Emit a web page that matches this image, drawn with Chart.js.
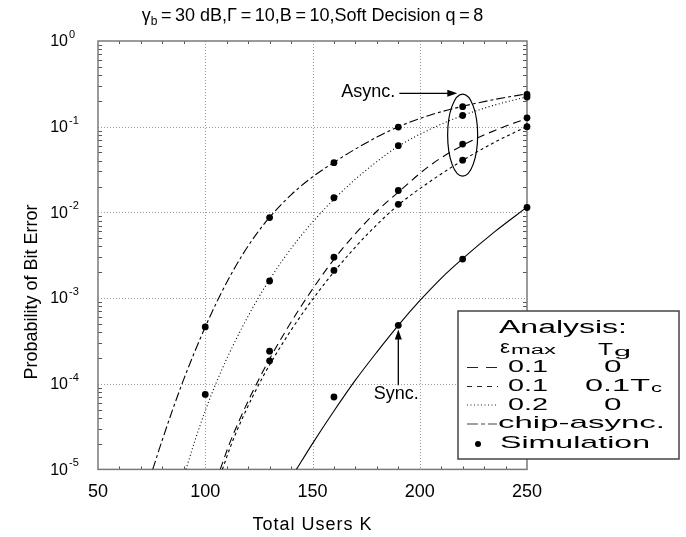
<!DOCTYPE html>
<html>
<head>
<meta charset="utf-8">
<script src="https://cdn.jsdelivr.net/npm/chart.js@4.4.1/dist/chart.umd.min.js"></script>
<style>
  html, body { margin: 0; padding: 0; background: #fff; }
  canvas { display: block; }
</style>
</head>
<body>
<canvas id="ber-chart" width="686" height="537"></canvas>
<script>
// Axes
const xTicks = [50, 100, 150, 200, 250];
const yTicks = [1, 1e-1, 1e-2, 1e-3, 1e-4, 1e-5];
const yTickExps = ['0', '-1', '-2', '-3', '-4', '-5'];

// Analysis curves (K users -> Pb)
const chipAsyncK  = [75.5, 80, 85, 90, 95, 100, 106, 112, 118, 124, 130, 140, 150, 160, 170, 180, 190, 205, 220, 235, 250];
const chipAsyncPb = [1e-5, 2.22e-5, 5.15e-5, 1.13e-4, 2.33e-4, 4.59e-4, 9.67e-4, 1.88e-3, 3.39e-3, 5.64e-3, 8.78e-3,
                     0.0160, 0.0259, 0.0383, 0.0548, 0.0756, 0.0997, 0.137, 0.173, 0.208, 0.242];

const eps02K  = [91, 95, 100, 105, 110, 117, 124, 130, 137, 145, 153, 160, 170, 180, 190, 205, 220, 235, 250];
const eps02Pb = [1e-5, 2.09e-5, 4.84e-5, 1.01e-4, 1.95e-4, 4.44e-4, 9.31e-4, 1.64e-3, 2.98e-3, 5.47e-3, 9.33e-3,
                 0.0142, 0.0244, 0.0391, 0.0592, 0.0938, 0.135, 0.179, 0.223];

const eps01K  = [107, 111, 116, 121, 126, 131, 138, 145, 152, 160, 170, 180, 190, 205, 220, 235, 250];
const eps01Pb = [1e-5, 1.91e-5, 3.80e-5, 7.08e-5, 1.26e-4, 2.16e-4, 4.33e-4, 8.24e-4, 1.50e-3, 2.83e-3, 5.64e-3,
                 0.0103, 0.0172, 0.0356, 0.0607, 0.0904, 0.125];

const eps01TgK  = [108, 112, 117, 122, 127, 132, 139, 146, 153, 160, 170, 180, 190, 205, 220, 235, 250];
const eps01TgPb = [1e-5, 1.91e-5, 3.80e-5, 7.0e-5, 1.22e-4, 2.02e-4, 3.85e-4, 6.98e-4, 1.21e-3, 2.02e-3, 3.94e-3,
                   7.18e-3, 0.0122, 0.0231, 0.0404, 0.066, 0.1006];

const syncK  = [142.5, 150, 160, 170, 180, 190, 200, 210, 220, 235, 250];
const syncPb = [1e-5, 2.0e-5, 4.8e-5, 1.1e-4, 2.34e-4, 4.8e-4, 9.3e-4, 1.7e-3, 2.88e-3, 5.96e-3, 0.0115];

// Simulation points
const simK  = [100, 100, 130, 130, 130, 130, 160, 160, 160, 160, 160, 190, 190, 190, 190, 190, 220, 220, 220, 220, 220, 250, 250, 250, 250, 250];
const simPb = [4.6e-4, 7.5e-5, 8.7e-3, 1.58e-3, 2.4e-4, 1.85e-4, 0.038, 0.0148, 3.0e-3, 2.1e-3, 7e-5,
               0.099, 0.060, 0.018, 0.0124, 4.8e-4, 0.171, 0.135, 0.0626, 0.0406, 2.85e-3, 0.238, 0.222, 0.127, 0.100, 0.0114];

// Annotation anchors in data units
const asyncLabel = { x: 176, y: 0.256 };
const asyncArrow = { x0: 190.5, x1: 217.5, y: 0.245 };
const asyncEllipse = { x: 220, halfK: 7, top: 0.24, bottom: 0.0265 };
const syncLabel = { x: 189, y: 7.6e-5 };
const syncArrow = { x: 190, y0: 9.6e-5, y1: 4.3e-4 };

const FONT = '"Liberation Sans", Arial, Helvetica, sans-serif';

const DASH_CHIP = [9, 3, 3, 3];
const DASH_LONG = [8, 5];
const DASH_SHORT = [3, 3];
const DASH_DOT = [1, 2.5];

function curve(xs, ys, dash) {
  return {
    data: xs.map((k, i) => ({ x: k, y: ys[i] })),
    borderColor: '#000',
    borderWidth: 1.1,
    borderDash: dash,
    pointRadius: 0,
    fill: false,
    cubicInterpolationMode: 'monotone'
  };
}

function seg(ctx, x0, y0, x1, y1) {
  ctx.beginPath();
  ctx.moveTo(x0, y0);
  ctx.lineTo(x1, y1);
  ctx.stroke();
}

// draws text stretched horizontally so it spans `w` pixels
function fitText(ctx, s, left, base, size, w) {
  ctx.font = size + 'px ' + FONT;
  const natural = ctx.measureText(s).width;
  ctx.save();
  ctx.translate(left, base);
  ctx.scale(w / natural, 1);
  ctx.textAlign = 'left';
  ctx.textBaseline = 'alphabetic';
  ctx.fillText(s, 0, 0);
  ctx.restore();
}

const paperPlot = {
  id: 'paperPlot',
  beforeDatasetsDraw(chart) {
    const { ctx, chartArea: a, scales: { x, y } } = chart;
    ctx.save();
    ctx.lineWidth = 1;

    // dotted grid
    ctx.strokeStyle = '#9a9a9a';
    ctx.setLineDash([1, 2]);
    xTicks.slice(1, -1).forEach(v => {
      const px = Math.round(x.getPixelForValue(v)) + 0.5;
      seg(ctx, px, a.top, px, a.bottom);
    });
    yTicks.slice(1, -1).forEach(v => {
      const py = Math.round(y.getPixelForValue(v)) + 0.5;
      seg(ctx, a.left, py, a.right, py);
    });
    ctx.setLineDash([]);

    // minor ticks, inside the frame
    ctx.strokeStyle = '#555';
    for (let k = 60; k < 250; k += 10) {
      if (k % 50 === 0) continue;
      const px = Math.round(x.getPixelForValue(k)) + 0.5;
      seg(ctx, px, a.bottom, px, a.bottom - 3);
      seg(ctx, px, a.top, px, a.top + 3);
    }
    for (let d = -5; d < 0; d++) {
      for (let m = 2; m <= 9; m++) {
        const py = Math.round(y.getPixelForValue(m * Math.pow(10, d))) + 0.5;
        seg(ctx, a.left, py, a.left + 4, py);
        seg(ctx, a.right, py, a.right - 4, py);
      }
    }

    // frame
    ctx.strokeStyle = '#7a7a7a';
    ctx.lineWidth = 1.5;
    ctx.strokeRect(a.left, a.top, a.right - a.left, a.bottom - a.top);
    ctx.restore();
  },

  afterDatasetsDraw(chart) {
    const { ctx, chartArea: a, scales: { x, y } } = chart;
    ctx.save();
    ctx.fillStyle = '#000';
    ctx.strokeStyle = '#000';

    // y tick labels 10^n
    yTicks.forEach((v, i) => {
      const py = y.getPixelForValue(v);
      ctx.font = '16px ' + FONT;
      ctx.textAlign = 'right';
      ctx.textBaseline = 'middle';
      ctx.fillText('10', a.left - 30, py + 1);
      ctx.font = '11px ' + FONT;
      ctx.textAlign = 'left';
      ctx.fillText(yTickExps[i], a.left - 29, py - 6);
    });

    // title
    const titleParts = [
      ['\u03b3', 18, 0],
      ['b', 12, 4],
      ['\u2009=\u200930 dB,\u0393\u2009=\u200910,B\u2009=\u200910,Soft Decision q\u2009=\u20098', 18, 0]
    ];
    let tw = 0;
    titleParts.forEach(p => { ctx.font = p[1] + 'px ' + FONT; tw += ctx.measureText(p[0]).width; });
    let tx = (a.left + a.right) / 2 - tw / 2;
    ctx.textAlign = 'left';
    ctx.textBaseline = 'alphabetic';
    titleParts.forEach(p => {
      ctx.font = p[1] + 'px ' + FONT;
      ctx.fillText(p[0], tx, 21 + p[2]);
      tx += ctx.measureText(p[0]).width;
    });

    // axis titles
    ctx.font = '18px ' + FONT;
    ctx.textAlign = 'center';
    ctx.textBaseline = 'middle';
    ctx.letterSpacing = '1px';
    ctx.fillText('Total Users K', (a.left + a.right) / 2, 525);
    ctx.letterSpacing = '0px';
    ctx.save();
    ctx.translate(32, 292);
    ctx.rotate(-Math.PI / 2);
    ctx.fillText('Probability of Bit Error', 0, 0);
    ctx.restore();

    // Async. annotation
    ctx.font = '18px ' + FONT;
    ctx.fillText('Async.', x.getPixelForValue(asyncLabel.x), y.getPixelForValue(asyncLabel.y));
    const ay = y.getPixelForValue(asyncArrow.y);
    const ax0 = x.getPixelForValue(asyncArrow.x0);
    const ax1 = x.getPixelForValue(asyncArrow.x1);
    ctx.lineWidth = 1.3;
    seg(ctx, ax0, ay, ax1 - 8, ay);
    ctx.beginPath();
    ctx.moveTo(ax1, ay);
    ctx.lineTo(ax1 - 10, ay - 3.5);
    ctx.lineTo(ax1 - 10, ay + 3.5);
    ctx.closePath();
    ctx.fill();

    const ecx = x.getPixelForValue(asyncEllipse.x);
    const etop = y.getPixelForValue(asyncEllipse.top);
    const ebot = y.getPixelForValue(asyncEllipse.bottom);
    const erx = x.getPixelForValue(asyncEllipse.x + asyncEllipse.halfK) - ecx;
    ctx.lineWidth = 1.2;
    ctx.beginPath();
    ctx.ellipse(ecx, (etop + ebot) / 2, erx, (ebot - etop) / 2, 0, 0, Math.PI * 2);
    ctx.stroke();

    // Sync. annotation
    ctx.fillText('Sync.', x.getPixelForValue(syncLabel.x), y.getPixelForValue(syncLabel.y));
    const sx = x.getPixelForValue(syncArrow.x);
    const sy0 = y.getPixelForValue(syncArrow.y0);
    const sy1 = y.getPixelForValue(syncArrow.y1);
    ctx.lineWidth = 1.3;
    seg(ctx, sx, sy0, sx, sy1 + 8);
    ctx.beginPath();
    ctx.moveTo(sx, sy1);
    ctx.lineTo(sx - 3.5, sy1 + 10);
    ctx.lineTo(sx + 3.5, sy1 + 10);
    ctx.closePath();
    ctx.fill();

    // legend box
    const L = { x: 458, y: 311, w: 221, h: 148 };
    ctx.fillStyle = '#fff';
    ctx.fillRect(L.x, L.y, L.w, L.h);
    ctx.strokeStyle = '#444';
    ctx.lineWidth = 1.5;
    ctx.strokeRect(L.x, L.y, L.w, L.h);
    ctx.fillStyle = '#000';

    fitText(ctx, 'Analysis:', 499, 333, 18, 128);
    fitText(ctx, '\u03b5', 500, 352.5, 18, 10);
    fitText(ctx, 'max', 511, 354, 12, 45);
    fitText(ctx, 'T', 598, 355, 16, 15);
    fitText(ctx, 'g', 614, 356, 12, 17);

    const rows = [
      { dash: [11, 8], ly: 367.5, base: 372, a: '0.1', b: '0' },
      { dash: [5, 5], ly: 386.5, base: 391, a: '0.1', b: '0.1T', sub: 'c' },
      { dash: DASH_DOT, ly: 405, base: 410, a: '0.2', b: '0' }
    ];
    rows.forEach(r => {
      ctx.strokeStyle = '#222';
      ctx.lineWidth = 1.2;
      ctx.setLineDash(r.dash);
      seg(ctx, 467, r.ly, 498, r.ly);
      ctx.setLineDash([]);
      fitText(ctx, r.a, 508, r.base, 17, 40);
      if (r.sub) {
        fitText(ctx, r.b, 585, r.base, 17, 65);
        fitText(ctx, r.sub, 651, r.base + 1, 12, 11);
      } else {
        fitText(ctx, r.b, 604, r.base, 17, 17.5);
      }
    });
    ctx.strokeStyle = '#444';
    ctx.setLineDash([11, 3, 4, 3]);
    seg(ctx, 467, 424, 497, 424);
    ctx.setLineDash([]);
    fitText(ctx, 'chip-async.', 498, 428, 17, 167);
    ctx.beginPath();
    ctx.arc(478, 444, 3, 0, Math.PI * 2);
    ctx.fill();
    fitText(ctx, 'Simulation', 500, 447.5, 17, 150);

    ctx.restore();
  }
};

new Chart(document.getElementById('ber-chart').getContext('2d'), {
  type: 'line',
  data: {
    datasets: [
      curve(chipAsyncK, chipAsyncPb, DASH_CHIP),
      curve(eps02K, eps02Pb, DASH_DOT),
      curve(eps01K, eps01Pb, DASH_LONG),
      curve(eps01TgK, eps01TgPb, DASH_SHORT),
      curve(syncK, syncPb, []),
      {
        data: simK.map((k, i) => ({ x: k, y: simPb[i] })),
        showLine: false,
        pointRadius: 3.4,
        pointBackgroundColor: '#000',
        pointBorderColor: '#000',
        pointBorderWidth: 0,
        clip: false
      }
    ]
  },
  options: {
    responsive: false,
    animation: false,
    layout: { padding: { left: 98, right: 159, top: 41, bottom: 22 } },
    scales: {
      x: {
        type: 'linear',
        min: 50,
        max: 250,
        afterBuildTicks: scale => { scale.ticks = xTicks.map(v => ({ value: v })); },
        grid: { display: false, drawTicks: false },
        border: { display: false },
        ticks: { color: '#000', padding: 12, font: { family: FONT, size: 18 } }
      },
      y: {
        type: 'logarithmic',
        min: 1e-5,
        max: 1,
        display: false
      }
    },
    plugins: {
      legend: { display: false },
      tooltip: { enabled: false },
      title: { display: false }
    }
  },
  plugins: [paperPlot]
});
</script>
</body>
</html>
